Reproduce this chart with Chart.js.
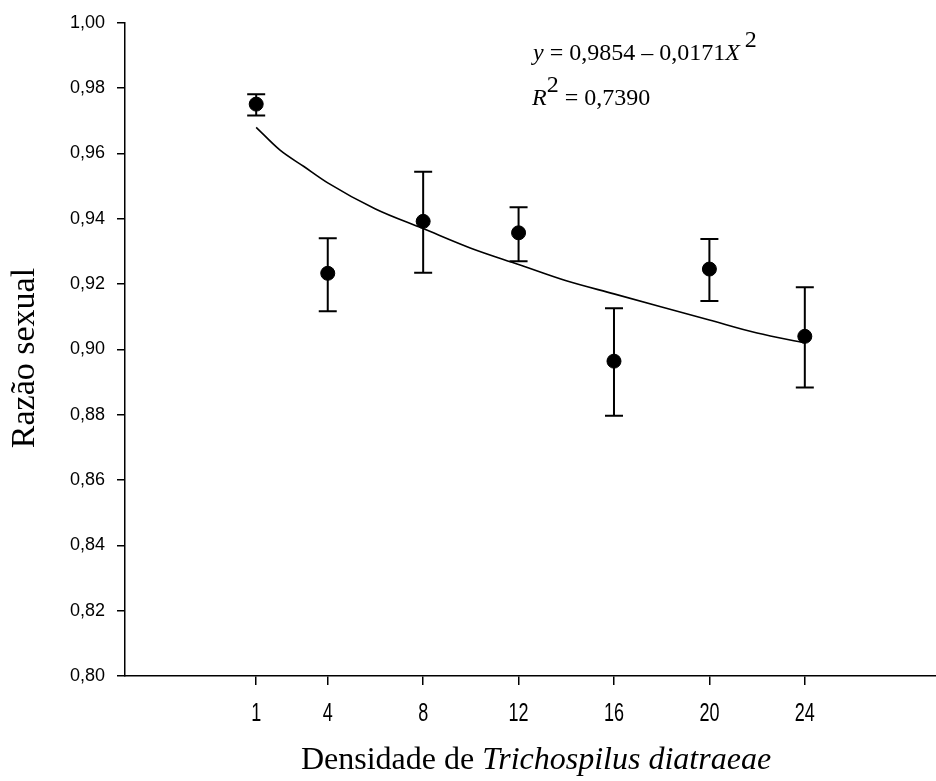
<!DOCTYPE html>
<html>
<head>
<meta charset="utf-8">
<script src="https://cdn.jsdelivr.net/npm/chart.js@4.4.1/dist/chart.umd.min.js"></script>
<style>
    html, body { margin: 0; padding: 0; background: #fff; }
    #wrap { width: 936px; height: 781px; position: relative; }
</style>
</head>
<body>
<div id="wrap"><canvas id="ratioChart"></canvas></div>
<script>
// Sex ratio by parasitoid density (mean with error bars)
const densities = [1, 4, 8, 12, 16, 20, 24];
const sexRatio = [0.9751, 0.9233, 0.9392, 0.9357, 0.8964, 0.9246, 0.9040];
const errUpper = [0.9781, 0.9340, 0.9544, 0.9435, 0.9126, 0.9338, 0.9190];
const errLower = [0.9716, 0.9117, 0.9235, 0.9270, 0.8797, 0.9148, 0.8883];

// Fitted regression curve
const fitX = [1, 2, 3, 4, 6, 8, 10, 12, 14, 16, 18, 20, 22, 24];
const fitY = [0.968, 0.961, 0.956, 0.951, 0.943, 0.937, 0.931, 0.926, 0.921, 0.917, 0.913, 0.909, 0.905, 0.902];

const xTicks = [1, 4, 8, 12, 16, 20, 24];
const yMin = 0.80, yMax = 1.00, yStep = 0.02;

const SERIF = '"Liberation Serif", "Times New Roman", serif';
const SANS = '"Liberation Sans", Arial, sans-serif';

const errorBars = {
    id: 'errorBars',
    beforeDatasetsDraw(chart) {
        const { ctx, scales: { x, y } } = chart;
        ctx.save();
        ctx.strokeStyle = '#000';
        ctx.lineWidth = 2;
        densities.forEach((d, i) => {
            const px = x.getPixelForValue(d);
            const top = y.getPixelForValue(errUpper[i]);
            const bot = y.getPixelForValue(errLower[i]);
            ctx.beginPath();
            ctx.moveTo(px, top); ctx.lineTo(px, bot);
            ctx.moveTo(px - 9, top); ctx.lineTo(px + 9, top);
            ctx.moveTo(px - 9, bot); ctx.lineTo(px + 9, bot);
            ctx.stroke();
        });
        ctx.restore();
    }
};

// Mixed-style text runs: [text, italic, raise]
function drawRuns(ctx, runs, x, baseline, size) {
    let cx = x;
    runs.forEach(([txt, italic, raise]) => {
        ctx.font = (italic ? 'italic ' : '') + size + 'px ' + SERIF;
        ctx.fillText(txt, cx, baseline - (raise || 0));
        cx += ctx.measureText(txt).width;
    });
    return cx;
}

function runsWidth(ctx, runs, size) {
    let w = 0;
    runs.forEach(([t, it]) => {
        ctx.font = (it ? 'italic ' : '') + size + 'px ' + SERIF;
        w += ctx.measureText(t).width;
    });
    return w;
}

const annotations = {
    id: 'annotations',
    afterDraw(chart) {
        const { ctx, scales: { x } } = chart;
        ctx.save();
        ctx.fillStyle = '#000';
        ctx.textAlign = 'left';
        ctx.textBaseline = 'alphabetic';

        // regression equation
        drawRuns(ctx, [['y', true], [' = 0,9854 \u2013 0,0171', false], ['X', true], ['\u2009', false], ['2', false, 13]], 533, 60, 24);
        drawRuns(ctx, [['R', true], ['2', false, 13], [' = 0,7390', false]], 532, 105, 24);

        // condensed x tick labels
        ctx.font = '25px ' + SANS;
        ctx.textAlign = 'center';
        ctx.textBaseline = 'middle';
        xTicks.forEach(v => {
            ctx.save();
            ctx.translate(x.getPixelForValue(v), 714);
            ctx.scale(0.72, 1);
            ctx.fillText(String(v), 0, 0);
            ctx.restore();
        });

        // x axis title
        ctx.textAlign = 'left';
        ctx.textBaseline = 'alphabetic';
        const runs = [['Densidade de ', false], ['Trichospilus diatraeae', true]];
        const w = runsWidth(ctx, runs, 32);
        drawRuns(ctx, runs, 536 - w / 2, 769, 32);

        // y axis title, rotated
        ctx.translate(34, 358);
        ctx.rotate(-Math.PI / 2);
        ctx.font = '34px ' + SERIF;
        ctx.textAlign = 'center';
        ctx.fillText('Razão sexual', 0, 0);
        ctx.restore();
    }
};

new Chart(document.getElementById('ratioChart'), {
    data: {
        datasets: [
            {
                type: 'line',
                data: fitX.map((v, i) => ({ x: v, y: fitY[i] })),
                borderColor: '#000',
                borderWidth: 1.6,
                pointRadius: 0,
                tension: 0.4,
                cubicInterpolationMode: 'monotone',
                fill: false
            },
            {
                type: 'scatter',
                data: densities.map((v, i) => ({ x: v, y: sexRatio[i] })),
                backgroundColor: '#000',
                borderColor: '#000',
                pointRadius: 7,
                pointHoverRadius: 7
            }
        ]
    },
    options: {
        responsive: true,
        maintainAspectRatio: false,
        animation: false,
        layout: { autoPadding: false, padding: { top: 22, right: 0, left: 0, bottom: 0 } },
        plugins: { legend: { display: false }, tooltip: { enabled: false } },
        scales: {
            x: {
                type: 'linear',
                min: -4.5,
                max: 29.5,
                afterBuildTicks: scale => { scale.ticks = xTicks.map(v => ({ value: v })); },
                afterFit: scale => {
                    scale.height = 105;
                    scale.paddingLeft = 0;
                    scale.paddingRight = 0;
                },
                border: { display: true, color: '#000', width: 1.5 },
                grid: { display: true, drawOnChartArea: false, drawTicks: true, tickLength: 9, color: '#000', lineWidth: 1.5 },
                ticks: { display: false, autoSkip: false, maxRotation: 0 }
            },
            y: {
                min: yMin,
                max: yMax,
                afterFit: scale => { scale.width = 125; },
                border: { display: true, color: '#000', width: 1.5 },
                grid: { display: true, drawOnChartArea: false, drawTicks: true, tickLength: 8, color: '#000', lineWidth: 1.5 },
                ticks: {
                    stepSize: yStep,
                    color: '#000',
                    padding: 12,
                    font: { family: SANS, size: 18 },
                    callback: v => v.toFixed(2).replace('.', ',')
                }
            }
        }
    },
    plugins: [errorBars, annotations]
});
</script>
</body>
</html>
